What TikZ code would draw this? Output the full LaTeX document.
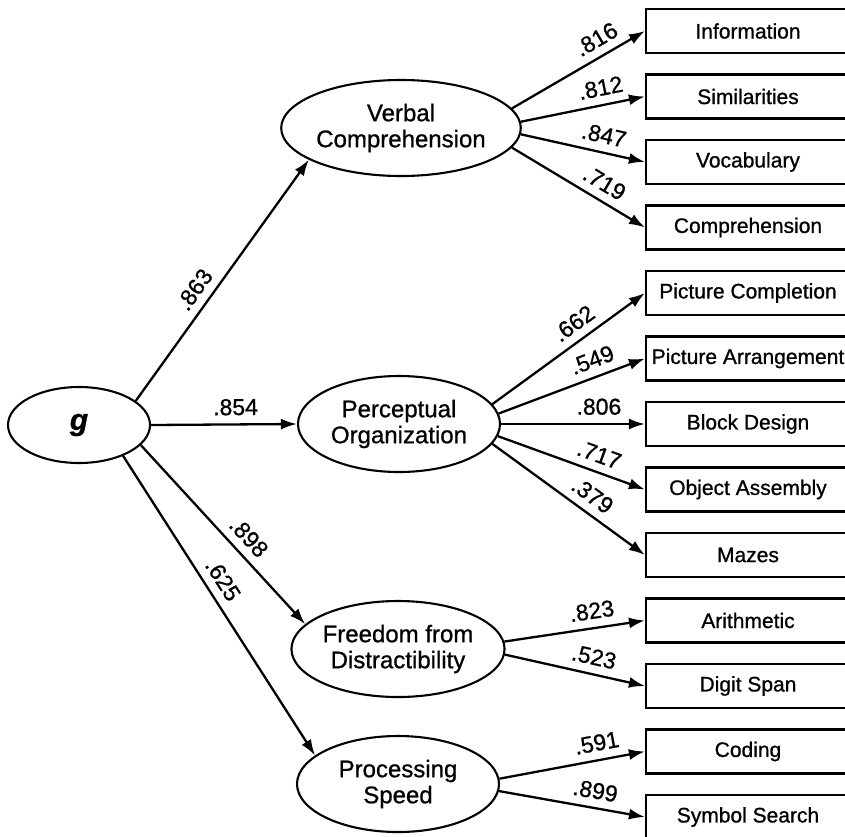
\documentclass[tikz,border=0pt]{standalone}
\usepackage{fontspec}
\setmainfont{Liberation Sans}[FakeBold=0.9]
\usetikzlibrary{arrows.meta,shapes.geometric}
\begin{document}
\begin{tikzpicture}[x=1pt,y=-1pt,
  lat/.style={ellipse, draw, line width=2.1pt, minimum width=202pt, minimum height=96pt, inner sep=0pt, align=center, font=\fontsize{24}{26}\selectfont},
  obs/.style={rectangle, draw, line width=2.1pt, minimum width=204pt, minimum height=44pt, inner sep=0pt, font=\fontsize{21}{24}\selectfont},
  arr/.style={-{Latex[length=16pt,width=11pt]}, line width=2.3pt},
  lbl/.style={font=\fontsize{23}{26}\selectfont, inner sep=0pt, sloped, above=8pt}
]
\clip (0,0) rectangle (845,836);
% latent variables
\node[lat, minimum width=142pt, minimum height=76pt, font=\fontsize{30}{32}\selectfont\bfseries\itshape] (g) at (79,425) {g};
\node[lat] (vc) at (401,128) {Verbal\\Comprehension};
\node[lat] (po) at (399,424) {Perceptual\\Organization};
\node[lat] (fd) at (398,649) {Freedom from\\Distractibility};
\node[lat] (ps) at (398,784) {Processing\\Speed};
% observed variables
\node[obs] (info) at (748,31) {Information};
\node[obs] (sim) at (748,96.5) {Similarities};
\node[obs] (voc) at (748,162) {Vocabulary};
\node[obs] (comp) at (748,227.5) {Comprehension};
\node[obs] (pc) at (748,293) {Picture Completion};
\node[obs] (pa) at (748,358.5) {Picture Arrangement};
\node[obs] (bd) at (748,424) {Block Design};
\node[obs] (oa) at (748,489.5) {Object Assembly};
\node[obs] (mz) at (748,555) {Mazes};
\node[obs] (ar) at (748,620.5) {Arithmetic};
\node[obs] (ds) at (748,686) {Digit Span};
\node[obs] (cd) at (748,751.5) {Coding};
\node[obs] (ss) at (748,817) {Symbol Search};
% g to factors
\draw[arr] (g.23) -- node[lbl,pos=.42]{.863} (vc.199);
\draw[arr] (g.east) -- node[lbl,pos=.58]{.854} (po.west);
\draw[arr] (g.-18) -- node[lbl,pos=.58]{.898} (fd.165);
\draw[arr] (g.-35) -- node[lbl,pos=.445]{.625} (ps.161);
% verbal comprehension
\draw[arr] (vc.10) -- node[lbl,pos=.70]{.816} (info.west);
\draw[arr] (vc.3) -- node[lbl,pos=.67]{.812} (sim.west);
\draw[arr] (vc.-3) -- node[lbl,pos=.64]{.847} (voc.west);
\draw[arr] (vc.-10) -- node[lbl,pos=.63]{.719} (comp.west);
% perceptual organization
\draw[arr] (po.12) -- node[lbl,pos=.60]{.662} (pc.west);
\draw[arr] (po.6) -- node[lbl,pos=.68]{.549} (pa.west);
\draw[arr] (po.east) -- node[lbl,pos=.68]{.806} (bd.west);
\draw[arr] (po.-7) -- node[lbl,pos=.65]{.717} (oa.west);
\draw[arr] (po.-12) -- node[lbl,pos=.59]{.379} (mz.west);
% freedom from distractibility
\draw[arr] (fd.4) -- node[lbl,pos=.64]{.823} (ar.west);
\draw[arr] (fd.-3) -- node[lbl,pos=.61]{.523} (ds.west);
% processing speed
\draw[arr] (ps.3) -- node[lbl,pos=.69]{.591} (cd.west);
\draw[arr] (ps.-4) -- node[lbl,pos=.64]{.899} (ss.west);
\end{tikzpicture}
\end{document}
